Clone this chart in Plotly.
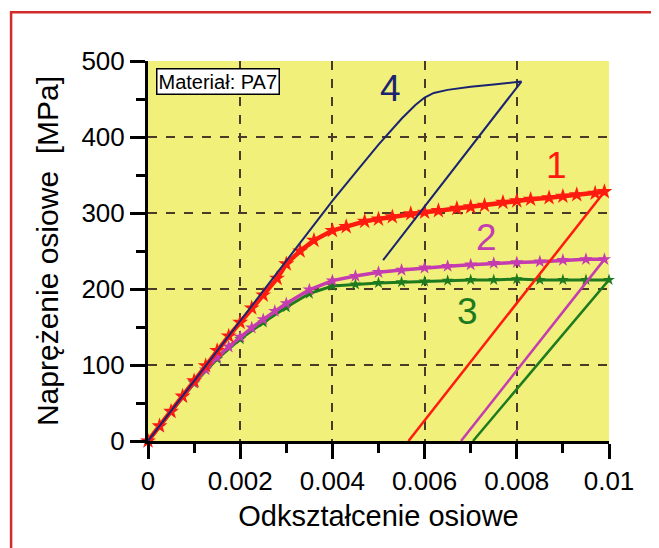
import plotly.graph_objects as go

# Curve 1 (red)
e1 = [0, 0.00025, 0.0005, 0.00075, 0.001, 0.00125, 0.0015, 0.00175, 0.002, 0.00225, 0.0025,
      0.0028, 0.003, 0.0033, 0.0036, 0.004, 0.0043, 0.0047, 0.005, 0.0053, 0.0057, 0.006,
      0.0063, 0.0067, 0.007, 0.0073, 0.0077, 0.008, 0.0083, 0.0087, 0.009, 0.0093, 0.0097, 0.0099]
s1 = [0, 20, 39, 59, 79, 99, 119, 138, 156, 175, 192,
      214, 233, 250, 264, 277, 282, 289, 292, 295, 299, 301,
      303, 306, 308, 310, 314, 316, 318, 320, 322, 324, 326, 328]
e1_unl = [0.0099, 0.00565]
s1_unl = [328, 0]

# Curve 2 (magenta)
e2 = [0, 0.00025, 0.0005, 0.00075, 0.001, 0.00125, 0.0015, 0.00175, 0.002, 0.00225, 0.0025,
      0.00275, 0.003, 0.0035, 0.004, 0.0045, 0.005, 0.0055, 0.006, 0.0065, 0.007, 0.0075,
      0.008, 0.0085, 0.009, 0.0095, 0.0099]
s2 = [0, 19, 38, 58, 77, 94, 110, 124, 137, 149, 160,
      171, 181, 199, 211, 217, 222, 225, 228, 230, 232, 234,
      235, 236, 238, 239, 239]
e2_unl = [0.0099, 0.00679]
s2_unl = [239, 0]

# Curve 3 (green)
e3 = [0, 0.0005, 0.001, 0.0015, 0.002, 0.0025, 0.003, 0.0035, 0.004, 0.0045, 0.005, 0.0055,
      0.006, 0.0065, 0.007, 0.0075, 0.008, 0.0085, 0.009, 0.0095, 0.01]
s3 = [0, 38, 76, 108, 134, 156, 176, 194, 204, 206, 208, 209,
      210, 211, 212, 212, 213, 212, 212, 212, 212]
e3_unl = [0.01, 0.00705]
s3_unl = [212, 0]

# Curve 4 (navy) loading + unloading
e4 = [0, 0.001, 0.002, 0.003, 0.004, 0.0045, 0.005, 0.0055, 0.0058, 0.006, 0.0062,
      0.0065, 0.007, 0.0075, 0.0081, 0.0051]
s4 = [0, 79, 159, 238, 316, 353, 390, 424, 442, 452, 458, 462, 466, 469, 473, 238]

x_ticks = [0, 0.002, 0.004, 0.006, 0.008, 0.01]
x_ticklabels = ["0", "0.002", "0.004", "0.006", "0.008", "0.01"]
y_ticks = [0, 100, 200, 300, 400, 500]

RED = "#ff1a10"
MAG = "#c43cb0"
GRN = "#1e7a1e"
NAVY = "#1b2470"
FONT = "Liberation Sans, Arial, sans-serif"

fig = go.Figure()

def noisy(x, y, color, w, ms):
    fig.add_trace(go.Scatter(x=x, y=y, mode="lines+markers",
                             line=dict(color=color, width=w),
                             marker=dict(symbol="star", size=ms, color=color),
                             cliponaxis=False, showlegend=False, hoverinfo="skip"))

def plain(x, y, color, w):
    fig.add_trace(go.Scatter(x=x, y=y, mode="lines",
                             line=dict(color=color, width=w),
                             cliponaxis=False, showlegend=False, hoverinfo="skip"))

plain(e3_unl, s3_unl, GRN, 2.5)
noisy(e3, s3, GRN, 3, 9)
plain(e2_unl, s2_unl, MAG, 2.5)
noisy(e2, s2, MAG, 3.5, 10)
plain(e1_unl, s1_unl, RED, 2.5)
noisy(e1, s1, RED, 4.5, 12)
plain(e4, s4, NAVY, 2)

labels = [("1", 0.00887, 363, RED), ("2", 0.00735, 268, MAG),
          ("3", 0.00692, 171, GRN), ("4", 0.00525, 464, NAVY)]
for t, x, y, c in labels:
    fig.add_annotation(x=x, y=y, text=t, showarrow=False,
                       font=dict(family=FONT, size=37, color=c))

fig.add_annotation(x=0.00152, y=473, text="Materiał: PA7", showarrow=False,
                   font=dict(family=FONT, size=20, color="black"),
                   bgcolor="white", bordercolor="black", borderwidth=1.5, borderpad=1)

# outer red frame
fig.add_shape(type="rect", xref="paper", yref="paper",
              x0=-0.297, x1=1.102, y0=-0.31, y1=1.128,
              line=dict(color="#d42a2a", width=2.5), layer="below")

axis_common = dict(
    showline=True, linecolor="black", linewidth=3, mirror=False,
    ticks="outside", ticklen=15, tickwidth=3, tickcolor="black",
    showgrid=True, gridcolor="#4a3a28", griddash="dash", gridwidth=1.5,
    zeroline=False, automargin=False,
    tickfont=dict(family=FONT, size=26, color="black"),
)

fig.update_xaxes(range=[0, 0.01], tickvals=x_ticks, ticktext=x_ticklabels,
                 minor=dict(dtick=0.001, ticks="outside", ticklen=9, tickwidth=2.5,
                            tickcolor="black", showgrid=False),
                 title=dict(text="Odkształcenie osiowe",
                            font=dict(family=FONT, size=29, color="black"), standoff=11),
                 **axis_common)
fig.update_yaxes(range=[0, 500], tickvals=y_ticks,
                 minor=dict(dtick=50, ticks="outside", ticklen=9, tickwidth=2.5,
                            tickcolor="black", showgrid=False),
                 title=dict(text="Naprężenie osiowe  [MPa]",
                            font=dict(family=FONT, size=30, color="black"), standoff=14),
                 **axis_common)

fig.update_layout(
    width=659, height=548,
    margin=dict(l=140, r=58, t=53, b=115),
    paper_bgcolor="white", plot_bgcolor="#f0f07a",
    font=dict(family=FONT),
)

fig.write_html("out.html")
